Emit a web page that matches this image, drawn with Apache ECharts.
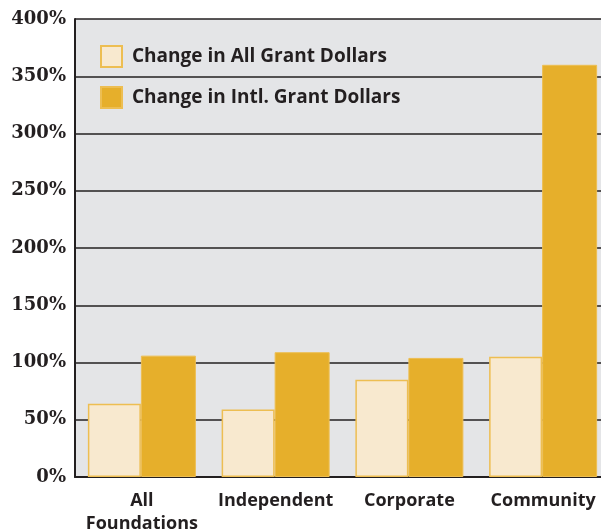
<!DOCTYPE html>
<html>
<head>
<meta charset="utf-8">
<script src="https://cdn.jsdelivr.net/npm/echarts@6/dist/echarts.min.js"></script>
<style>
  html, body { margin: 0; padding: 0; background: #fff; }
  #main { width: 601px; height: 529px; }
</style>
</head>
<body>
<div id="main"></div>
<script>
// data
var categories = ["All\nFoundations", "Independent", "Corporate", "Community"];
var allGrantChange = [64, 59, 85, 105];
var intlGrantChange = [106, 109, 104, 360];
var seriesNames = ["Change in All Grant Dollars", "Change in Intl. Grant Dollars"];

var myChart = echarts.init(document.getElementById("main"));

var option = {
  animation: false,
  grid: {
    left: 75,
    right: -9, // plot runs past the right edge
    top: 19,
    bottom: 52,
    outerBoundsMode: "none",
    show: true,
    backgroundColor: "#E4E5E7",
    borderWidth: 0
  },
  legend: {
    orient: "vertical",
    left: 100,
    top: 45,
    padding: 0,
    itemWidth: 21,
    itemHeight: 21,
    itemGap: 18,
    icon: "rect",
    textStyle: {
      fontFamily: "Open Sans",
      fontWeight: "bold",
      fontSize: 19,
      color: "#231F20",
      padding: [0, 0, 0, 5]
    },
    data: seriesNames
  },
  xAxis: {
    type: "category",
    data: categories,
    axisTick: { show: false },
    axisLine: { lineStyle: { color: "#231F20", width: 2 } },
    axisLabel: {
      interval: 0,
      color: "#231F20",
      fontFamily: "Open Sans",
      fontWeight: "bold",
      fontSize: 18,
      lineHeight: 23,
      margin: 12
    }
  },
  yAxis: {
    type: "value",
    min: 0,
    max: 400,
    interval: 50,
    axisLine: { show: true, lineStyle: { color: "#231F20", width: 2 } },
    axisTick: { show: false },
    splitLine: { lineStyle: { color: "#231F20", width: 1.5 } },
    axisLabel: {
      formatter: "{value}%",
      color: "#231F20",
      fontFamily: "DejaVu Serif",
      fontWeight: "bold",
      fontSize: 18,
      margin: 9
    }
  },
  series: [
    {
      name: seriesNames[0],
      type: "bar",
      data: allGrantChange,
      barWidth: 53,
      barGap: "0%",
      itemStyle: { color: "#F8E9CF", borderColor: "#EDBE52", borderWidth: 1.5 }
    },
    {
      name: seriesNames[1],
      type: "bar",
      data: intlGrantChange,
      barWidth: 55,
      itemStyle: { color: "#E6AF2B", borderColor: "#EDBE52", borderWidth: 1 }
    }
  ]
};
myChart.setOption(option);
</script>
</body>
</html>
